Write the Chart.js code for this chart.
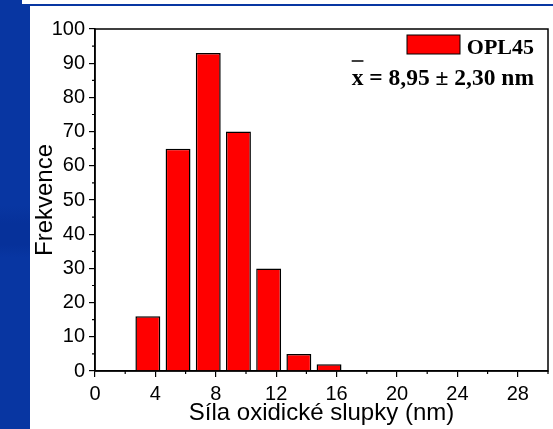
<!DOCTYPE html>
<html>
<head>
<meta charset="utf-8">
<script src="https://cdn.jsdelivr.net/npm/chart.js@4/dist/chart.umd.min.js"></script>
<style>
  body { margin: 0; width: 553px; height: 429px; overflow: hidden;
         background: linear-gradient(180deg, #0836a2 0%, #0836a2 48%, #06319a 52%, #06319a 57%, #0836a2 60%, #0836a2 100%);
         position: relative; }
  #strip { position: absolute; left: 22px; top: 0; width: 531px; height: 4px; background: #fff; }
  #panel { position: absolute; left: 30px; top: 6px; width: 523px; height: 423px; background: #fff; }
</style>
</head>
<body>
<div id="strip"></div>
<div id="panel"><canvas id="myChart" width="523" height="423"></canvas></div>
<script>
// oxide shell thickness histogram, 2 nm bins
const binCenters = [3.5, 5.5, 7.5, 9.5, 11.5, 13.5, 15.5];
const counts = [16, 65, 93, 70, 30, 5, 2];
const seriesName = 'OPL45';
const meanText = 'x = 8,95 ± 2,30 nm';

const sans = 'Liberation Sans, Arial, sans-serif';
const serif = 'Liberation Serif, Times New Roman, serif';

const isMajorX = v => v % 4 === 0;
const isMajorY = v => v % 10 === 0;

// box around the plot area + short minor ticks
const frame = {
  id: 'frame',
  afterDraw(chart) {
    const a = chart.chartArea, ctx = chart.ctx;
    const sx = chart.scales.x, sy = chart.scales.y;
    ctx.save();
    ctx.strokeStyle = '#000';
    ctx.lineWidth = 1.5;
    ctx.strokeRect(a.left, a.top, a.right - a.left, a.bottom - a.top);
    ctx.lineWidth = 1.2;
    ctx.beginPath();
    sx.ticks.forEach(t => {
      if (isMajorX(t.value)) return;
      const p = sx.getPixelForValue(t.value);
      ctx.moveTo(p, a.bottom);
      ctx.lineTo(p, a.bottom + 3);
    });
    sy.ticks.forEach(t => {
      if (isMajorY(t.value)) return;
      const p = sy.getPixelForValue(t.value);
      ctx.moveTo(a.left, p);
      ctx.lineTo(a.left - 3, p);
    });
    ctx.stroke();
    ctx.restore();
  }
};

// legend box + mean value text in the top right corner
const legendBox = {
  id: 'legendBox',
  afterDraw(chart) {
    const a = chart.chartArea, ctx = chart.ctx;
    const ds = chart.data.datasets[0];
    ctx.save();
    ctx.fillStyle = ds.backgroundColor;
    ctx.strokeStyle = '#000';
    ctx.lineWidth = 1;
    ctx.fillRect(a.right - 141, 29, 53, 19);
    ctx.strokeRect(a.right - 141, 29, 53, 19);
    ctx.fillStyle = '#000';
    ctx.font = 'bold 22px ' + serif;
    ctx.textBaseline = 'alphabetic';
    ctx.textAlign = 'right';
    ctx.fillText(ds.label, a.right - 14, 48);
    ctx.font = 'bold 23.5px ' + serif;
    ctx.fillText(meanText, a.right - 14, 79);
    // bar over the x
    const w = ctx.measureText(meanText).width;
    const xw = ctx.measureText('x').width;
    const x0 = a.right - 14 - w;
    ctx.lineWidth = 1.5;
    ctx.beginPath();
    ctx.moveTo(x0, 55);
    ctx.lineTo(x0 + xw, 55);
    ctx.stroke();
    ctx.restore();
  }
};

const ctx = document.getElementById('myChart');

new Chart(ctx, {
  type: 'bar',
  data: {
    datasets: [{
      label: seriesName,
      data: binCenters.map((x, i) => ({x: x, y: counts[i]})),
      backgroundColor: '#ff0000',
      borderColor: '#000',
      borderWidth: 1.5,
      categoryPercentage: 1,
      barPercentage: 0.825
    }]
  },
  options: {
    responsive: false,
    animation: false,
    devicePixelRatio: 1,
    layout: { padding: { left: 0, right: 2, top: 23, bottom: 0 } },
    plugins: { legend: { display: false }, tooltip: { enabled: false } },
    scales: {
      x: {
        type: 'linear',
        min: 0,
        max: 30,
        offset: false,
        afterFit(scale) { scale.height = 58; },
        border: { color: '#000', width: 1.5 },
        grid: {
          offset: false, drawOnChartArea: false, drawTicks: true, tickLength: 6, lineWidth: 1.2,
          tickColor: c => isMajorX(c.tick.value) ? '#000' : 'rgba(0,0,0,0)'
        },
        ticks: {
          stepSize: 2,
          autoSkip: false,
          maxRotation: 0,
          padding: 5,
          color: '#000',
          font: { family: sans, size: 20 },
          callback: v => (isMajorX(v) && v < 30) ? v : ''
        },
        title: {
          display: true,
          text: 'Síla oxidické slupky (nm)',
          color: '#000',
          font: { family: sans, size: 24 },
          padding: { top: 0, bottom: 1 }
        }
      },
      y: {
        min: 0,
        max: 100,
        afterFit(scale) { scale.width = 65; },
        border: { color: '#000', width: 1.5 },
        grid: {
          drawOnChartArea: false, drawTicks: true, tickLength: 6, lineWidth: 1.2,
          tickColor: c => isMajorY(c.tick.value) ? '#000' : 'rgba(0,0,0,0)'
        },
        ticks: {
          stepSize: 5,
          autoSkip: false,
          padding: 4,
          color: '#000',
          font: { family: sans, size: 20 },
          callback: v => isMajorY(v) ? v : ''
        },
        title: {
          display: true,
          text: 'Frekvence',
          color: '#000',
          font: { family: sans, size: 24 },
          padding: { top: 1, bottom: 0 }
        }
      }
    }
  },
  plugins: [frame, legendBox]
});
</script>
</body>
</html>
